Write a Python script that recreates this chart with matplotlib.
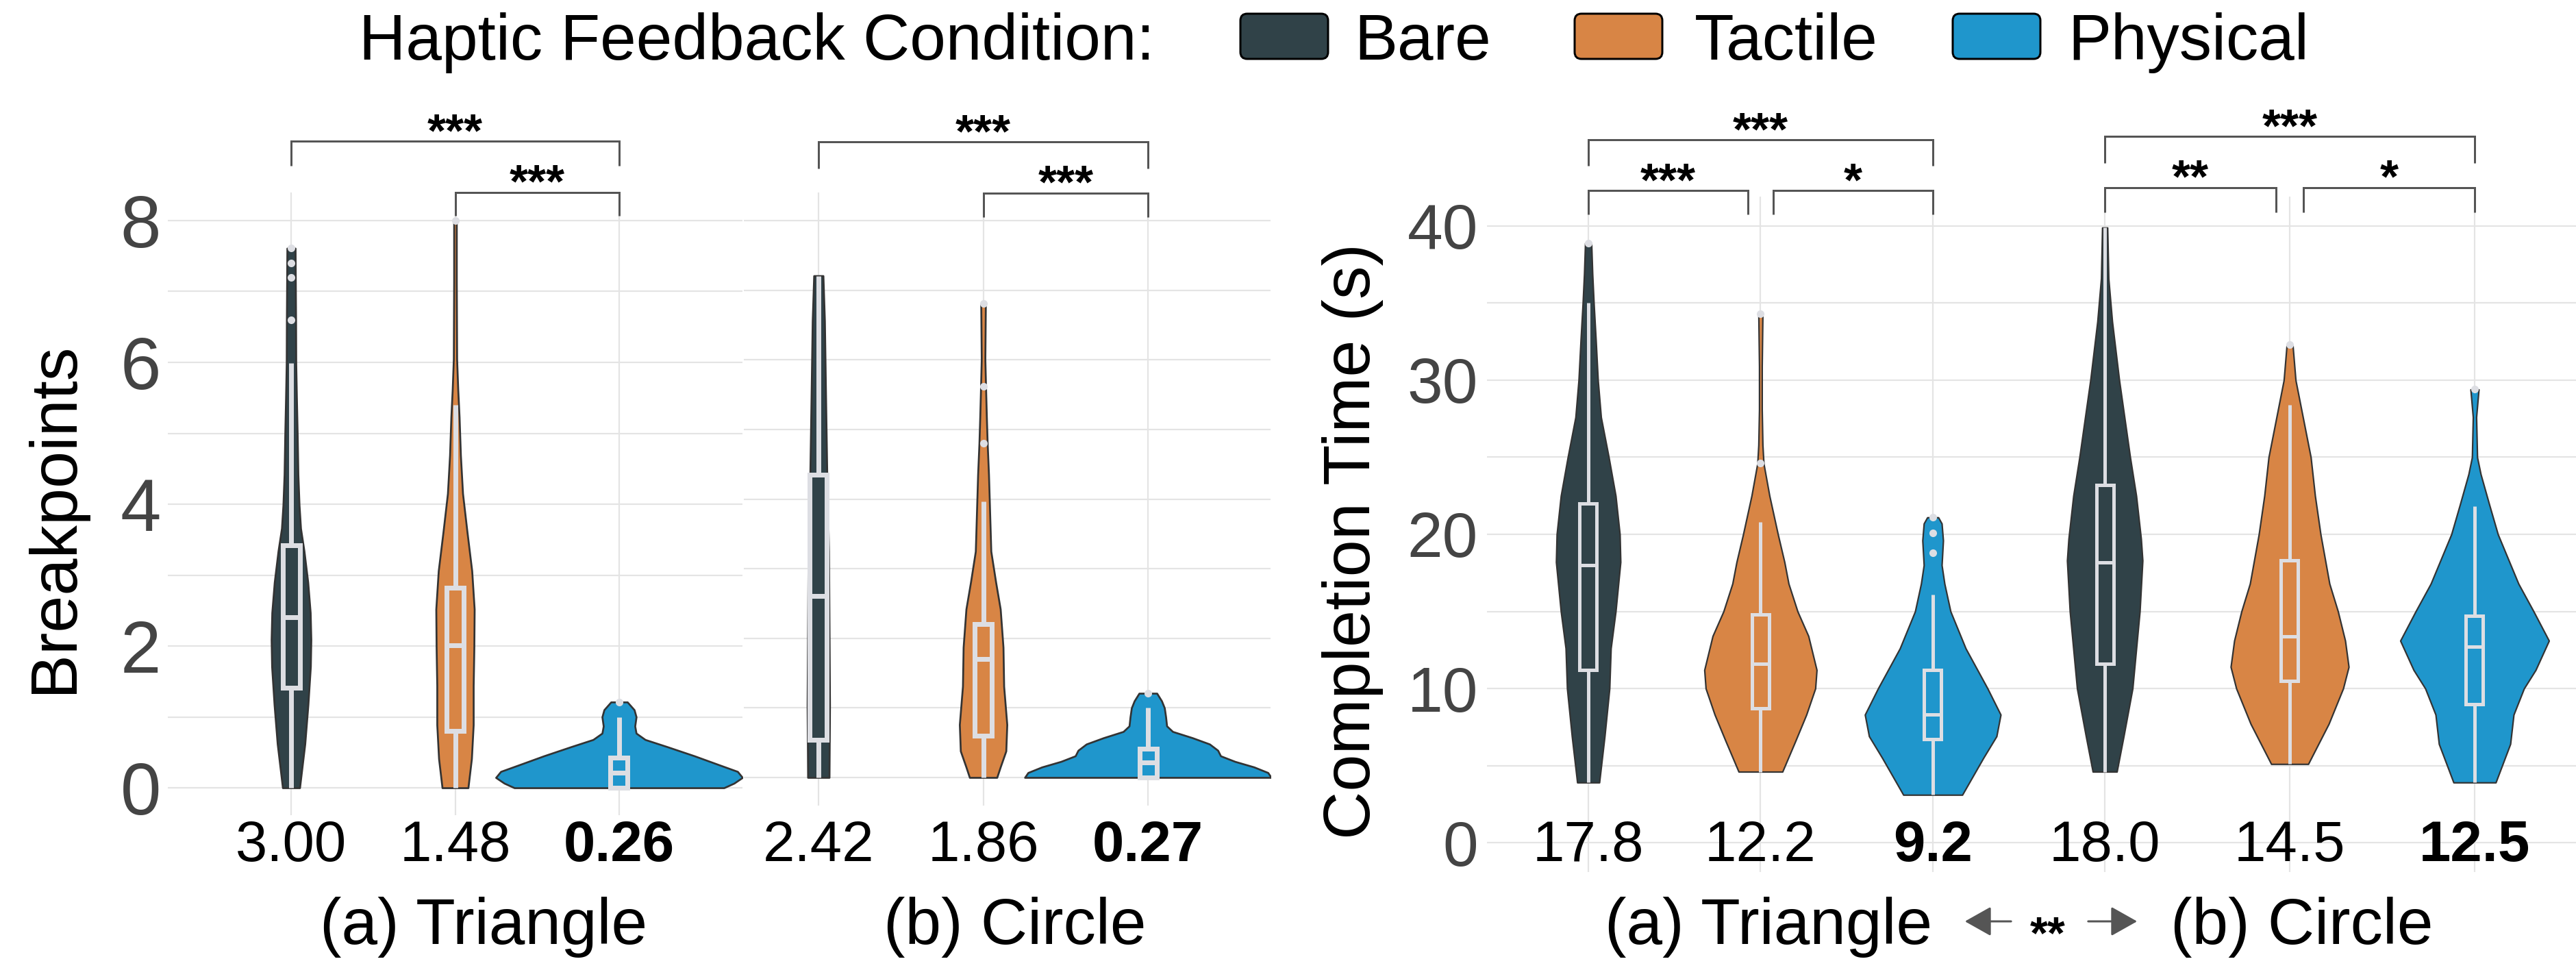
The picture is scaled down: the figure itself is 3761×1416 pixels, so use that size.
import numpy as np
import matplotlib
matplotlib.use("Agg")
import matplotlib.pyplot as plt
from matplotlib.patches import Rectangle, FancyBboxPatch, FancyArrowPatch
from matplotlib import transforms

plt.rcParams['font.family'] = ['Liberation Sans', 'DejaVu Sans']

# ------------------------------------------------------------------ data
conditions = ["Bare", "Tactile", "Physical"]
cond_colors = ["#304248", "#D88545", "#1F96CC"]
legend_title = "Haptic Feedback Condition:"
shape_labels = ["(a) Triangle", "(b) Circle"]

bp_ylabel = "Breakpoints"
bp_yticks = [0, 1, 2, 3, 4, 5, 6, 7, 8]
bp_yticklabels = ["0", "", "2", "", "4", "", "6", "", "8"]
bp_tri_means = ["3.00", "1.48", "0.26"]
bp_cir_means = ["2.42", "1.86", "0.27"]

ct_ylabel = "Completion Time (s)"
ct_yticks = [0, 5, 10, 15, 20, 25, 30, 35, 40]
ct_yticklabels = ["0", "", "10", "", "20", "", "30", "", "40"]
ct_tri_means = ["17.8", "12.2", "9.2"]
ct_cir_means = ["18.0", "14.5", "12.5"]
shape_effect = "**"

# violin outlines: value levels and half widths (category units)
bp_tri_bare_y = [0, 0.62, 1.17, 1.71, 2.09, 2.47, 2.90, 3.34, 3.66, 3.99, 4.42, 4.96, 5.50, 5.99, 6.59, 7.61]
bp_tri_bare_w = [0.052, 0.084, 0.103, 0.118, 0.121, 0.117, 0.102, 0.079, 0.058, 0.049, 0.042, 0.038, 0.033, 0.029, 0.028, 0.025]
bp_tri_tac_y = [0, 0.41, 0.89, 1.44, 1.98, 2.52, 3.06, 3.61, 4.15, 4.69, 5.23, 5.61, 6.05, 7.13, 8.0]
bp_tri_tac_w = [0.079, 0.100, 0.111, 0.111, 0.115, 0.117, 0.102, 0.073, 0.046, 0.033, 0.025, 0.017, 0.010, 0.008, 0.008]
bp_tri_phy_y = [0, 0.065, 0.145, 0.23, 0.32, 0.45, 0.58, 0.68, 0.77, 0.87, 1.0, 1.10, 1.21]
bp_tri_phy_w = [0.639, 0.701, 0.752, 0.722, 0.614, 0.459, 0.292, 0.159, 0.104, 0.096, 0.104, 0.092, 0.050]

bp_cir_bare_y = [0, 1.04, 2.14, 3.25, 4.41, 5.46, 6.56, 7.21]
bp_cir_bare_w = [0.065, 0.068, 0.065, 0.062, 0.051, 0.044, 0.037, 0.028]
bp_cir_tac_y = [0, 0.15, 0.38, 0.76, 1.31, 1.87, 2.42, 2.81, 3.25, 3.80, 4.35, 4.80, 5.18, 5.62, 6.01, 6.81]
bp_cir_tac_w = [0.083, 0.104, 0.138, 0.144, 0.125, 0.121, 0.104, 0.076, 0.047, 0.040, 0.033, 0.025, 0.020, 0.015, 0.011, 0.014]
bp_cir_phy_y = [0, 0.07, 0.15, 0.23, 0.31, 0.39, 0.48, 0.57, 0.66, 0.74, 0.87, 1.0, 1.10, 1.21]
bp_cir_phy_w = [0.748, 0.728, 0.644, 0.528, 0.441, 0.424, 0.374, 0.270, 0.150, 0.114, 0.108, 0.100, 0.083, 0.054]

ct_tri_bare_y = [3.9, 6.9, 10, 12.6, 15, 18.2, 20, 22.5, 25, 27.6, 30, 32.6, 35, 36.9, 38.9]
ct_tri_bare_w = [0.064, 0.095, 0.123, 0.131, 0.159, 0.187, 0.183, 0.159, 0.119, 0.074, 0.056, 0.044, 0.032, 0.024, 0.018]
ct_tri_tac_y = [4.6, 6.6, 8.3, 10, 11.2, 13.4, 15, 16.8, 18.2, 20, 22.5, 24.6, 25.8, 28.1, 30.9, 34.3]
ct_tri_tac_w = [0.127, 0.203, 0.266, 0.318, 0.326, 0.278, 0.215, 0.163, 0.139, 0.101, 0.052, 0.018, 0.012, 0.008, 0.008, 0.012]
ct_tri_phy_y = [3.1, 5.5, 6.9, 8.3, 10, 12.6, 15, 16.8, 18, 19.6, 20.7, 21.1]
ct_tri_phy_w = [0.171, 0.294, 0.370, 0.394, 0.318, 0.191, 0.103, 0.068, 0.052, 0.060, 0.052, 0.032]

ct_cir_bare_y = [4.6, 6.9, 10, 15, 18.3, 19.7, 22.5, 25, 30, 33.8, 36.6, 39.9]
ct_cir_bare_w = [0.065, 0.102, 0.150, 0.189, 0.204, 0.196, 0.170, 0.137, 0.078, 0.040, 0.020, 0.014]
ct_cir_tac_y = [5.1, 7.7, 10, 11.4, 13.1, 15, 16.8, 20, 22.5, 25, 30, 32.3]
ct_cir_tac_w = [0.100, 0.211, 0.289, 0.319, 0.300, 0.261, 0.215, 0.167, 0.137, 0.114, 0.032, 0.016]
ct_cir_phy_y = [3.9, 6.4, 8.3, 10, 11.2, 13.1, 15, 16.8, 20, 21.9, 23.9, 25, 27.6, 29.4]
ct_cir_phy_w = [0.114, 0.193, 0.211, 0.267, 0.330, 0.402, 0.319, 0.237, 0.126, 0.080, 0.033, 0.014, 0.009, 0.022]

# box statistics: [whisker low, q1, median, q3, whisker high]
bp_tri_box = [[0, 1.41, 2.41, 3.42, 5.99], [0, 0.80, 2.01, 2.82, 5.40], [0, 0, 0.21, 0.43, 1.0]]
bp_tri_out = [[6.60, 7.20, 7.40, 7.61], [8.0], [1.21]]
bp_cir_box = [[0, 0.54, 2.61, 4.35, 7.21], [0, 0.60, 1.70, 2.20, 3.97], [0, 0, 0.22, 0.41, 1.0]]
bp_cir_out = [[], [4.80, 5.62, 6.81], [1.21]]
ct_tri_box = [[3.9, 11.2, 18.0, 22.0, 35.0], [4.6, 8.7, 11.6, 14.8, 20.8], [3.1, 6.7, 8.3, 11.2, 16.1]]
ct_tri_out = [[38.9], [24.6, 34.3], [18.8, 20.1, 21.1]]
ct_cir_box = [[4.6, 11.6, 18.2, 23.2, 39.9], [5.1, 10.5, 13.4, 18.3, 28.4], [3.9, 9.0, 12.7, 14.7, 21.8]]
ct_cir_out = [[], [32.3], [29.4]]

# significance brackets: (group a, group b, bracket level, leg end, label)
bp_tri_sig = [(0, 2, 9.12, 8.77, "***"), (1, 2, 8.40, 8.07, "***")]
bp_cir_sig = [(0, 2, 9.13, 8.75, "***"), (1, 2, 8.40, 8.05, "***")]
ct_tri_sig = [(0, 2, 45.6, 43.9, "***"), (0, 1, 42.3, 40.75, "***"), (1, 2, 42.3, 40.75, "*")]
ct_cir_sig = [(0, 2, 45.8, 44.1, "***"), (0, 1, 42.5, 40.9, "**"), (1, 2, 42.5, 40.9, "*")]

# ------------------------------------------------------------------ layout
W, H, DPI = 3762, 1416, 100
PT = 72.0 / DPI
fig = plt.figure(figsize=(W / DPI, H / DPI), dpi=DPI)
fig.patch.set_facecolor("white")

GRID = "#E4E4E4"
BOXC = "#DDDEE3"
EDGE = "#333333"
TICKC = "#444444"


def add_ax(l, r, t, b, xlim, ylim):
    ax = fig.add_axes([l / W, 1 - b / H, (r - l) / W, (b - t) / H])
    ax.set_xlim(*xlim)
    ax.set_ylim(*ylim)
    for s in ax.spines.values():
        s.set_visible(False)
    ax.set_axisbelow(True)
    ax.set_xticks([0, 1, 2])
    ax.set_xticklabels(["", "", ""])
    ax.grid(True, color=GRID, lw=1.6)
    ax.tick_params(length=0)
    ax.set_facecolor("none")
    ppu = (r - l) / (xlim[1] - xlim[0])
    return ax, ppu


def draw_violins(ax, ppu, profiles, boxes, outs, box_lw_px, edge_lw_px, box_half_px=12.5):
    bw = box_half_px / ppu
    for i in range(3):
        ys = np.asarray(profiles[i][0], float)
        ws = np.asarray(profiles[i][1], float)
        ax.fill_betweenx(ys, i - ws, i + ws, facecolor=cond_colors[i], edgecolor=EDGE,
                         linewidth=edge_lw_px * PT, zorder=3, joinstyle="round")
        wlo, q1, med, q3, whi = boxes[i]
        lw = box_lw_px * PT
        if whi > q3:
            ax.plot([i, i], [q3, whi], color=BOXC, lw=lw, solid_capstyle="butt", zorder=4)
        if q1 > wlo:
            ax.plot([i, i], [wlo, q1], color=BOXC, lw=lw, solid_capstyle="butt", zorder=4)
        ax.add_patch(Rectangle((i - bw, q1), 2 * bw, q3 - q1, fill=False, edgecolor=BOXC,
                               lw=lw, zorder=4, joinstyle="miter"))
        ax.plot([i - bw, i + bw], [med, med], color=BOXC, lw=lw, solid_capstyle="butt", zorder=4)
        if len(outs[i]):
            ax.plot([i] * len(outs[i]), outs[i], "o", color=BOXC, ms=8, mec="none", zorder=5)


def draw_sig(ax, sig, gap=0.074, star_size=50):
    for (a, b, ytop, yleg, lab) in sig:
        xa, xb = float(a), float(b)
        for (c, d, yt2, _, _) in sig:
            if yt2 == ytop and (c, d) != (a, b):
                if d == a:
                    xa += gap
                if c == b:
                    xb -= gap
        ax.plot([xa, xa, xb, xb], [yleg, ytop, ytop, yleg], color="#555555", lw=3 * PT,
                clip_on=False, solid_joinstyle="miter", solid_capstyle="butt", zorder=6)
        ax.annotate(lab, xy=((xa + xb) / 2, ytop), xytext=(0, -5), textcoords="offset points",
                    ha="center", va="baseline", fontsize=star_size, fontweight="bold",
                    annotation_clip=False)


def means_labels(ax, labels, size=60, base_px=1257):
    tr = transforms.blended_transform_factory(ax.transData, fig.transFigure)
    for i, lab in enumerate(labels):
        ax.text(i, 1 - base_px / H, lab, transform=tr, ha="center", va="baseline",
                fontsize=size, fontweight="bold" if i == 2 else "normal", color="black")


# ---- left panel: breakpoints
axLT, pLT = add_ax(245, 1084, 281, 1190, (-0.752, 2.752), (-0.386, 8.396))
axLC, pLC = add_ax(1086, 1855, 281, 1176, (-0.453, 2.744), (-0.404, 8.406))
for ax in (axLT, axLC):
    ax.set_yticks(bp_yticks)
axLT.set_yticklabels(bp_yticklabels)
axLC.set_yticklabels([""] * len(bp_yticks))
axLT.tick_params(axis="y", labelsize=77, labelcolor=TICKC, pad=10 * PT)

draw_violins(axLT, pLT, [(bp_tri_bare_y, bp_tri_bare_w), (bp_tri_tac_y, bp_tri_tac_w),
                         (bp_tri_phy_y, bp_tri_phy_w)], bp_tri_box, bp_tri_out, 7, 2.7)
draw_violins(axLC, pLC, [(bp_cir_bare_y, bp_cir_bare_w), (bp_cir_tac_y, bp_cir_tac_w),
                         (bp_cir_phy_y, bp_cir_phy_w)], bp_cir_box, bp_cir_out, 7, 2.7)
draw_sig(axLT, bp_tri_sig)
draw_sig(axLC, bp_cir_sig)
means_labels(axLT, bp_tri_means)
means_labels(axLC, bp_cir_means)

# ---- right panel: completion time
axRT, pRT = add_ax(2171, 2924, 287, 1273, (-0.588, 2.406), (-1.91, 41.91))
axRC, pRC = add_ax(2924, 3762, 287, 1273, (-0.552, 2.552), (-1.91, 41.91))
for ax in (axRT, axRC):
    ax.set_yticks(ct_yticks)
axRT.set_yticklabels(ct_yticklabels)
axRC.set_yticklabels([""] * len(ct_yticks))
axRT.tick_params(axis="y", labelsize=67, labelcolor=TICKC, pad=13 * PT)

draw_violins(axRT, pRT, [(ct_tri_bare_y, ct_tri_bare_w), (ct_tri_tac_y, ct_tri_tac_w),
                         (ct_tri_phy_y, ct_tri_phy_w)], ct_tri_box, ct_tri_out, 5, 2.2)
draw_violins(axRC, pRC, [(ct_cir_bare_y, ct_cir_bare_w), (ct_cir_tac_y, ct_cir_tac_w),
                         (ct_cir_phy_y, ct_cir_phy_w)], ct_cir_box, ct_cir_out, 5, 2.2)
draw_sig(axRT, ct_tri_sig)
draw_sig(axRC, ct_cir_sig)
means_labels(axRT, ct_tri_means)
means_labels(axRC, ct_cir_means)

# ---- axis titles and group labels
fig.text(80 / W, 1 - 755 / H, bp_ylabel, rotation=90, ha="center", va="center", fontsize=70)
fig.text(1975 / W, 1 - 790 / H, ct_ylabel, rotation=90, ha="center", va="center", fontsize=70)

for xc, lab in zip([706, 1482, 2582, 3361], shape_labels * 2):
    fig.text(xc / W, 1 - 1378 / H, lab, ha="center", va="baseline", fontsize=68)

# arrows between shapes on the right
ident = transforms.IdentityTransform()
for (x0, x1) in [(2939, 2866), (3046, 3123)]:
    fig.patches.append(FancyArrowPatch((x0, H - 1345), (x1, H - 1345), transform=ident,
                                       arrowstyle="-|>,head_length=0.8,head_width=0.45",
                                       mutation_scale=30, lw=3 * PT, color="#555555"))
fig.text(2990 / W, 1 - (1345 + 0.58 * 48 / PT) / H, shape_effect, ha="center",
         va="baseline", fontsize=48, fontweight="bold")

# ---- legend
fig.text(524 / W, 1 - 87 / H, legend_title, ha="left", va="baseline", fontsize=68)
for (px0, lx), lab, col in zip([(1811, 1977), (2299, 2474), (2851, 3019)], conditions, cond_colors):
    fig.patches.append(FancyBboxPatch((px0, H - 86), 128, 66, transform=ident,
                                      boxstyle="round,pad=0,rounding_size=10",
                                      facecolor=col, edgecolor="black", lw=3 * PT))
    fig.text(lx / W, 1 - 87 / H, lab, ha="left", va="baseline", fontsize=68)

fig.savefig("out.png", dpi=DPI, facecolor="white")
